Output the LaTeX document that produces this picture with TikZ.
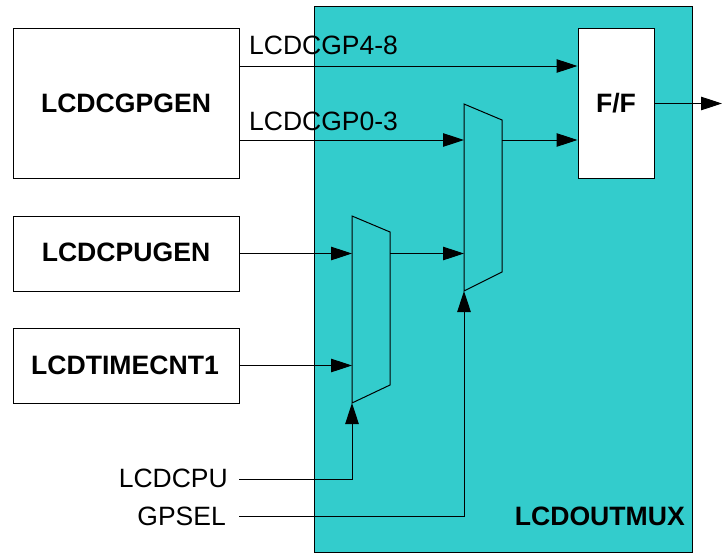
\documentclass[tikz,border=0pt]{standalone}
\usepackage{fontspec}
\setmainfont{Liberation Sans}
\usepackage{xcolor}
\usetikzlibrary{arrows.meta}
\definecolor{muxTeal}{HTML}{33CCCC}
\tikzset{
	blockbox/.style={draw, line width=1pt, fill=white, inner sep=0pt, font=\fontsize{26.6}{30}\selectfont\bfseries},
	sigwire/.style={line width=1pt, -{Triangle[length=21pt,width=13.5pt]}},
	muxshape/.style={draw, line width=1pt, line join=miter},
	siglabel/.style={inner sep=0pt, font=\fontsize{26.5}{30}\selectfont},
}
\begin{document}
\begin{tikzpicture}[x=1pt,y=-1pt]
		\useasboundingbox (0,0) rectangle (722,554);
		\node[draw, line width=1pt, fill=muxTeal, minimum width=378pt, minimum height=546pt, inner sep=0pt] (outmux) at (503,279) {};
		\node[inner sep=0pt, anchor=east, font=\fontsize{26.6}{30}\selectfont\bfseries] (outmuxlbl) at (685,516) {LCDOUTMUX};
		\node[blockbox, minimum width=226pt, minimum height=150pt] (gpgen) at (126,103) {LCDCGPGEN};
		\node[blockbox, minimum width=226pt, minimum height=75pt] (cpugen) at (126,253.5) {\raisebox{2.5pt}{LCDCPUGEN}};
		\node[blockbox, minimum width=226pt, minimum height=75pt] (timecnt) at (126,365.5) {\hspace*{-2pt}LCDTIMECNT1};
		\node[blockbox, minimum width=76pt, minimum height=150pt] (ff) at (616,103) {F/F};
		\node[siglabel, anchor=west] (gp48) at (249,45) {LCDCGP4-8};
		\node[siglabel, anchor=west] (gp03) at (249,121) {LCDCGP0-3};
		\node[siglabel, anchor=east] (cpu) at (228,478) {LCDCPU};
		\node[siglabel, anchor=east] (gpsel) at (226,516) {GPSEL};
		% the two muxes
		\draw[muxshape] (352,216) coordinate (muxa) -- (390,232) -- (390,385) -- (352,403) coordinate (muxas) -- cycle;
		\draw[muxshape] (464,104) coordinate (muxb) -- (502,120) -- (502,272) -- (464,291) coordinate (muxbs) -- cycle;
		\coordinate (cpustart) at (239,479);
		\coordinate (selstart) at (239,516);
		\coordinate (out) at (722,103.5);
		\draw[sigwire] (gpgen.east |- 0,66) -- (ff.west |- 0,66);
		\draw[sigwire] (gpgen.east |- 0,140) -- (464,140);
		\draw[sigwire] (502,140) -- (ff.west |- 0,140);
		\draw[sigwire] (ff.east |- out) -- (out);
		\draw[sigwire] (cpugen.east) -- (muxa |- cpugen.east);
		\draw[sigwire] (390,253.5) -- (muxb |- cpugen.east);
		\draw[sigwire] (timecnt.east) -- (muxa |- timecnt.east);
		\draw[sigwire] (cpustart) -| (muxas);
		\draw[sigwire] (selstart) -| (muxbs);
	\end{tikzpicture}
\end{document}
